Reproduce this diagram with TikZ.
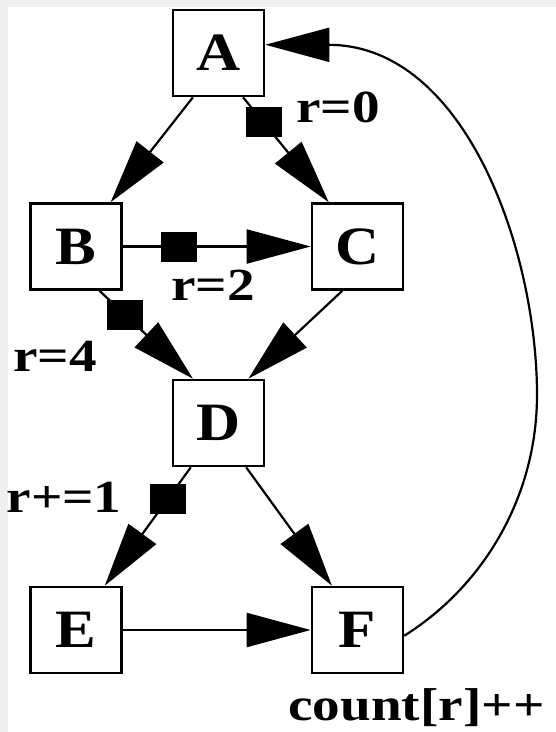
\documentclass[tikz,border=0pt]{standalone}
\usepackage{fontspec}
\setmainfont{Liberation Serif}
\newfontfamily\boxfont{Liberation Serif}[FakeStretch=1.13]
\newfontfamily\lblfont{Liberation Serif}[FakeStretch=1.2]
\usetikzlibrary{arrows.meta,positioning}

\begin{document}
\begin{tikzpicture}[x=1pt,y=-1pt,
        box/.style={draw,line width=2.6pt,minimum width=91pt,minimum height=86pt,inner sep=0pt,
            font=\boxfont\bfseries\fontsize{54}{54}\selectfont},
        lbl/.style={inner sep=0pt,anchor=base,font=\lblfont\bfseries\fontsize{46}{46}\selectfont},
        tail/.style={fill=black,minimum width=36pt,minimum height=30pt,inner sep=0pt},
        edge/.style={line width=2.2pt,-{Triangle[length=64pt,width=34pt]}}]
            % page and margins
            \fill[black!6] (0,0) rectangle (556,732);
            \fill[white] (8,7) rectangle (556,732);
            \useasboundingbox (0,0) rectangle (556,732);
            % blocks
            \node[box] (A) at (218.5,53) {A};
            \node[box] (B) at (76,246.5) {B};
            \node[box] (C) at (357.5,246.5) {C};
            \node[box] (D) at (218.5,423) {D};
            \node[box] (E) at (76,630) {E};
            \node[box] (F) at (357.5,630) {F};
            % edges
            \draw[edge] (A.240) -- (B.52);
            \draw[edge] (A.299) -- node[tail,pos=0.24] (tAC) {} (C.123);
            \draw[edge] (B) -- node[tail,pos=0.3] (tBC) {} (C);
            \draw[edge] (B.298) -- node[tail,pos=0.27] (tBD) {} (D.120);
            \draw[edge] (C.251) -- (D.56);
            \draw[edge] (D.238) -- node[tail,pos=0.27] (tDE) {} (E.57);
            \draw[edge] (D.302) -- (F.120);
            \draw[edge] (E) -- (F);
            \coordinate (bend) at (537,395);
            \draw[edge] (F.353) .. controls (485,585) and (537,495) .. (bend)
                .. controls (537,250) and (465,45) .. (A.10);
            % labels
            \node[lbl] (lAC) at (338,122) {r=0};
            \node[lbl] (lBC) at (213,300) {r=2};
            \node[lbl] (lBD) at (55,371) {r=4};
            \node[lbl] (lDE) at (64,512) {r+=1};
            \node[lbl] (lF) at (416.5,720) {count[r]++};
        \end{tikzpicture}
\end{document}
